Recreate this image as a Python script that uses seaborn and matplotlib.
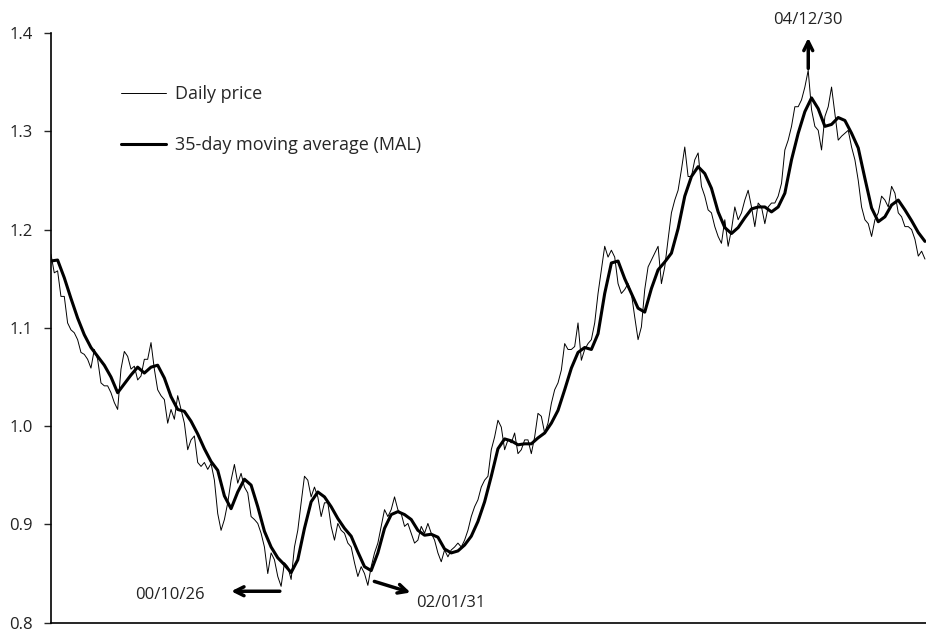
import numpy as np
import pandas as pd
import matplotlib
matplotlib.use('Agg')
import matplotlib.pyplot as plt
import seaborn as sns

# daily price at equal time steps (1999-01 .. 2005-12)
price_1999_00 = [1.175, 1.156, 1.158, 1.132, 1.132, 1.105, 1.098, 1.095, 1.088, 1.075,
                 1.073, 1.068, 1.059, 1.078, 1.068, 1.044, 1.041, 1.041, 1.034, 1.024,
                 1.017, 1.058, 1.076, 1.071, 1.058, 1.061, 1.047, 1.051, 1.068, 1.068,
                 1.085, 1.058, 1.037, 1.031, 1.027, 1.003, 1.017, 1.007, 1.031, 1.017,
                 1.003, 0.976, 0.986, 0.990, 0.963, 0.959, 0.963, 0.956,
                 0.962, 0.945, 0.911, 0.894, 0.905, 0.922, 0.945, 0.961, 0.942, 0.952,
                 0.938, 0.932, 0.908, 0.905, 0.901, 0.891, 0.877, 0.850, 0.871, 0.864,
                 0.847, 0.837, 0.861, 0.857, 0.844, 0.877, 0.894, 0.922, 0.949, 0.945,
                 0.928, 0.938, 0.928, 0.908, 0.922, 0.922, 0.898, 0.884, 0.901, 0.894,
                 0.891, 0.881]
price_2001_02 = [0.877, 0.861, 0.847, 0.857, 0.850, 0.838, 0.857, 0.871, 0.881, 0.898,
                 0.915, 0.908, 0.915, 0.928, 0.915, 0.911, 0.898, 0.901, 0.891, 0.881,
                 0.884, 0.898, 0.891, 0.901, 0.891, 0.884, 0.871, 0.862, 0.874, 0.867,
                 0.874, 0.877, 0.881, 0.877, 0.884, 0.894, 0.908, 0.918, 0.925, 0.938,
                 0.945, 0.949, 0.976, 0.989, 1.006,
                 0.999, 0.976, 0.986, 0.983, 0.993, 0.972, 0.976, 0.986, 0.986, 0.972,
                 0.989, 1.013, 1.010, 0.993, 1.003, 1.023, 1.037, 1.044, 1.057, 1.084,
                 1.078, 1.078, 1.081, 1.105, 1.067, 1.078, 1.084, 1.088, 1.105, 1.135,
                 1.159, 1.183, 1.172, 1.179, 1.172, 1.145, 1.135, 1.139, 1.145, 1.135,
                 1.111, 1.088, 1.101, 1.139, 1.162]
price_2004_05 = [1.169, 1.176, 1.183, 1.145, 1.162, 1.190, 1.217, 1.230, 1.240, 1.261,
                 1.284, 1.254, 1.254, 1.271, 1.278, 1.244, 1.234, 1.220, 1.217, 1.203,
                 1.193, 1.186, 1.210, 1.183, 1.200, 1.223, 1.210, 1.217, 1.230, 1.240,
                 1.223, 1.203, 1.227, 1.223, 1.206, 1.223, 1.227, 1.227, 1.234, 1.247,
                 1.281, 1.291,
                 1.305, 1.325, 1.325, 1.332, 1.345, 1.362, 1.322, 1.305, 1.301, 1.281,
                 1.315, 1.325, 1.345, 1.318, 1.291, 1.295, 1.298, 1.301, 1.284, 1.271,
                 1.250, 1.223, 1.210, 1.206, 1.193, 1.210, 1.217, 1.234, 1.230, 1.223,
                 1.244, 1.237, 1.217, 1.213, 1.203, 1.203, 1.200, 1.190, 1.173, 1.178,
                 1.170]

mal_1999_01 = [1.168, 1.169, 1.151, 1.130, 1.110, 1.093, 1.080, 1.071, 1.062, 1.050,
               1.034, 1.043, 1.052, 1.060, 1.054, 1.060, 1.062, 1.049, 1.030, 1.017,
               1.015, 1.005, 0.992, 0.977,
               0.964, 0.955, 0.929, 0.916, 0.933, 0.946, 0.940, 0.918, 0.893, 0.877,
               0.866, 0.859, 0.851, 0.864, 0.896, 0.923, 0.933, 0.928, 0.918, 0.906,
               0.896]
mal_2001_03 = [0.888, 0.872, 0.857, 0.853, 0.871, 0.896, 0.910, 0.913, 0.910, 0.905,
               0.894, 0.889, 0.890, 0.887, 0.875, 0.871, 0.873, 0.879, 0.888, 0.903,
               0.923, 0.949, 0.977,
               0.987, 0.985, 0.981, 0.982, 0.982, 0.988, 0.993, 1.003, 1.016, 1.037,
               1.059, 1.075, 1.080, 1.078, 1.094, 1.135, 1.166, 1.168, 1.150, 1.135,
               1.120, 1.116]
mal_2004_05 = [1.140, 1.159, 1.167, 1.176, 1.201, 1.234, 1.254, 1.264, 1.257, 1.242,
               1.218, 1.202, 1.196, 1.202, 1.212, 1.221, 1.223, 1.223, 1.218, 1.223,
               1.237,
               1.271, 1.298, 1.320, 1.334, 1.323, 1.305, 1.307, 1.314, 1.311, 1.298,
               1.283, 1.252, 1.222, 1.208, 1.213, 1.225, 1.230, 1.220, 1.209, 1.197,
               1.188]

start, end = '1999-01-04', '2005-12-02'
yticks = [0.8, 0.9, 1.0, 1.1, 1.2, 1.3, 1.4]

# annotations: label, date, value, arrow tip offset (pt), text offset (pt)
notes = [('00/10/26', '2000-10-26', 0.832, (-35, 0), (-79, -2.5)),
         ('02/01/31', '2001-07-26', 0.842, (26, -8), (55, -15.5)),
         ('04/12/30', '2004-12-30', 1.364, (0, 22), (0, 34.5))]

price = price_1999_00 + price_2001_02 + price_2004_05
mal = mal_1999_01 + mal_2001_03 + mal_2004_05
daily = pd.DataFrame({'date': pd.date_range(start, end, periods=len(price)), 'price': price})
avg = pd.DataFrame({'date': pd.date_range(start, end, periods=len(mal)), 'mal': mal})

sns.set_style('white')
plt.rcParams['font.family'] = ['Open Sans', 'DejaVu Sans']

fig = plt.figure(figsize=(9.26, 6.3), dpi=100)
ax = fig.add_axes([0.055, 0.0116, 0.945, 0.936])
sns.lineplot(data=daily, x='date', y='price', color='black', lw=0.7,
             label='Daily price', ax=ax)
sns.lineplot(data=avg, x='date', y='mal', color='black', lw=2.2,
             label='35-day moving average (MAL)', ax=ax)

ax.set_ylim(0.8, 1.4)
ax.set_xlim(daily['date'].iloc[0], daily['date'].iloc[-1] + pd.Timedelta(days=3))
ax.set_yticks(yticks)
ax.set_yticklabels(['%.1f' % v for v in yticks], fontsize=12, color='#222222')
ax.set_xticks([])
ax.set_xlabel('')
ax.set_ylabel('')
ax.tick_params(axis='y', direction='out', length=5, width=1, pad=8, left=True)
for s in ['top', 'right']:
    ax.spines[s].set_visible(False)
for s in ['left', 'bottom']:
    ax.spines[s].set_color('black')
    ax.spines[s].set_linewidth(1.2)

ax.legend(loc='upper left', bbox_to_anchor=(0.08, 0.912), frameon=False,
          handlelength=2.5, handletextpad=0.5, labelspacing=1.85, fontsize=13,
          borderpad=0, borderaxespad=0)

for label, d, v, tip, txt in notes:
    ax.annotate('', xy=(pd.Timestamp(d), v), xytext=tip, textcoords='offset points',
                arrowprops=dict(arrowstyle='<-', lw=2.5, color='black',
                                shrinkA=0, shrinkB=0, mutation_scale=16))
    ax.annotate(label, xy=(pd.Timestamp(d), v), xytext=txt, textcoords='offset points',
                ha='center', va='center', fontsize=12, color='#222222')

fig.savefig('out.png', dpi=100)
